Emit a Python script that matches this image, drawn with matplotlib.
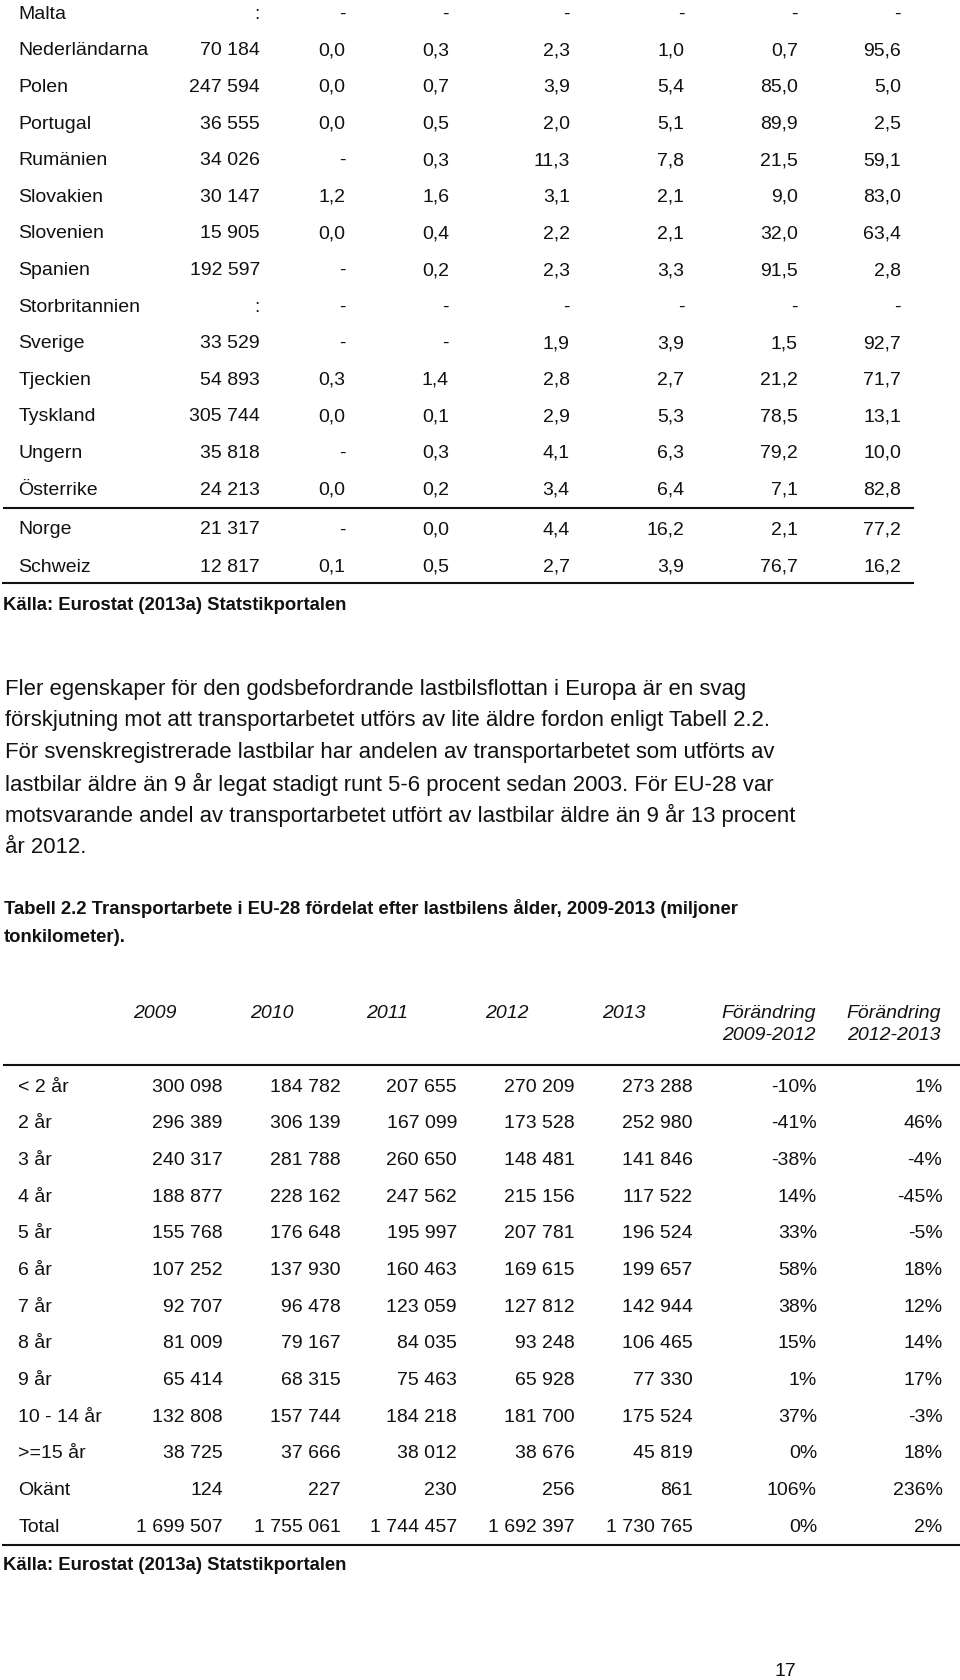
import matplotlib
matplotlib.use("Agg")
import matplotlib.pyplot as plt

# Table 1 (top part): vehicle share by class, per country
countries = ["Malta", "Nederländarna", "Polen", "Portugal", "Rumänien", "Slovakien",
             "Slovenien", "Spanien", "Storbritannien", "Sverige", "Tjeckien",
             "Tyskland", "Ungern", "Österrike"]
extra_countries = ["Norge", "Schweiz"]
totals = [None, 70184, 247594, 36555, 34026, 30147, 15905, 192597, None,
          33529, 54893, 305744, 35818, 24213]
extra_totals = [21317, 12817]
shares = [
    [None, None, None, None, None, None],
    [0.0, 0.3, 2.3, 1.0, 0.7, 95.6],
    [0.0, 0.7, 3.9, 5.4, 85.0, 5.0],
    [0.0, 0.5, 2.0, 5.1, 89.9, 2.5],
    [None, 0.3, 11.3, 7.8, 21.5, 59.1],
    [1.2, 1.6, 3.1, 2.1, 9.0, 83.0],
    [0.0, 0.4, 2.2, 2.1, 32.0, 63.4],
    [None, 0.2, 2.3, 3.3, 91.5, 2.8],
    [None, None, None, None, None, None],
    [None, None, 1.9, 3.9, 1.5, 92.7],
    [0.3, 1.4, 2.8, 2.7, 21.2, 71.7],
    [0.0, 0.1, 2.9, 5.3, 78.5, 13.1],
    [None, 0.3, 4.1, 6.3, 79.2, 10.0],
    [0.0, 0.2, 3.4, 6.4, 7.1, 82.8],
]
extra_shares = [
    [None, 0.0, 4.4, 16.2, 2.1, 77.2],
    [0.1, 0.5, 2.7, 3.9, 76.7, 16.2],
]

source = "Källa: Eurostat (2013a) Statstikportalen"

paragraph = [
    "Fler egenskaper för den godsbefordrande lastbilsflottan i Europa är en svag",
    "förskjutning mot att transportarbetet utförs av lite äldre fordon enligt Tabell 2.2.",
    "För svenskregistrerade lastbilar har andelen av transportarbetet som utförts av",
    "lastbilar äldre än 9 år legat stadigt runt 5-6 procent sedan 2003. För EU-28 var",
    "motsvarande andel av transportarbetet utfört av lastbilar äldre än 9 år 13 procent",
    "år 2012.",
]
caption = [
    "Tabell 2.2 Transportarbete i EU-28 fördelat efter lastbilens ålder, 2009-2013 (miljoner",
    "tonkilometer).",
]

# Table 2.2
headers = [("2009", ""), ("2010", ""), ("2011", ""), ("2012", ""), ("2013", ""),
           ("Förändring", "2009-2012"), ("Förändring", "2012-2013")]
ages = ["< 2 år", "2 år", "3 år", "4 år", "5 år", "6 år", "7 år", "8 år", "9 år",
        "10 - 14 år", ">=15 år", "Okänt", "Total"]
y2009 = [300098, 296389, 240317, 188877, 155768, 107252, 92707, 81009, 65414,
         132808, 38725, 124, 1699507]
y2010 = [184782, 306139, 281788, 228162, 176648, 137930, 96478, 79167, 68315,
         157744, 37666, 227, 1755061]
y2011 = [207655, 167099, 260650, 247562, 195997, 160463, 123059, 84035, 75463,
         184218, 38012, 230, 1744457]
y2012 = [270209, 173528, 148481, 215156, 207781, 169615, 127812, 93248, 65928,
         181700, 38676, 256, 1692397]
y2013 = [273288, 252980, 141846, 117522, 196524, 199657, 142944, 106465, 77330,
         175524, 45819, 861, 1730765]
chg_0912 = [-10, -41, -38, 14, 33, 58, 38, 15, 1, 37, 0, 106, 0]
chg_1213 = [1, 46, -4, -45, -5, 18, 12, 14, 17, -3, 18, 236, 2]
page_no = "17"


def fmt_int(v):
    if v is None:
        return ":"
    return "{:,}".format(v).replace(",", " ")


def fmt_dec(v):
    if v is None:
        return "-"
    return "{:.1f}".format(v).replace(".", ",")


plt.rcParams['font.family'] = ['Liberation Sans', 'DejaVu Sans']
fig = plt.figure(figsize=(9.6, 16.8), dpi=100)
ax = fig.add_axes([0, 0, 1, 1])
ax.set_xlim(0, 960)
ax.set_ylim(1680, 0)
ax.axis('off')

FS = 14
FS_P = 15.9
FS_B = 13.3
DY = 2  # va='center' sits a bit high for cap letters
INK = '#111111'


def put(x, y, s, **kw):
    kw.setdefault('fontsize', FS)
    kw.setdefault('va', 'center')
    kw.setdefault('color', INK)
    ax.text(x, y + DY, s, **kw)


# --- table 1 ---
t1_left = 18.5
t1_right = [260, 345.4, 449, 569.8, 684.5, 797.8, 901]
t1_y = [12.3 + 36.6 * i for i in range(len(countries))]
t1_extra_y = [528, 565]


def t1_row(y, name, tot, vals):
    put(t1_left, y, name, ha='left')
    put(t1_right[0], y, fmt_int(tot), ha='right')
    for x, v in zip(t1_right[1:], vals):
        put(x, y, fmt_dec(v), ha='right')


for y, name, tot, vals in zip(t1_y, countries, totals, shares):
    t1_row(y, name, tot, vals)
for y, name, tot, vals in zip(t1_extra_y, extra_countries, extra_totals, extra_shares):
    t1_row(y, name, tot, vals)

ax.plot([4, 913], [508, 508], color=INK, lw=1.5)
ax.plot([3, 913], [583, 583], color=INK, lw=1.5)
put(3, 603, source, fontsize=FS_B, fontweight='bold', ha='left')

# --- paragraph ---
for i, line in enumerate(paragraph):
    put(5, 687 + 31.65 * i, line, fontsize=FS_P, ha='left')

for i, line in enumerate(caption):
    put(4, 907 + 28.3 * i, line, fontsize=FS_B, fontweight='bold', ha='left')

# --- table 2 ---
t2_left = 18.5
t2_right = [222.8, 340.6, 457, 574.7, 692.5, 817, 942.5]
t2_head_x = [133, 250.4, 366.6, 484.8, 602, 721.7, 846.7]
for x, (h1, h2) in zip(t2_head_x, headers):
    put(x, 1011.7, h1, style='italic', ha='left')
    if h2:
        put(x, 1033.3, h2, style='italic', ha='left')
ax.plot([4, 960], [1065, 1065], color=INK, lw=1.5)

t2_y = [1085 + 36.67 * i for i in range(len(ages))]
cols = [y2009, y2010, y2011, y2012, y2013]
for i, (y, age) in enumerate(zip(t2_y, ages)):
    put(t2_left, y, age, ha='left')
    for x, col in zip(t2_right[:5], cols):
        put(x, y, fmt_int(col[i]), ha='right')
    put(t2_right[5], y, "{}%".format(chg_0912[i]), ha='right')
    put(t2_right[6], y, "{}%".format(chg_1213[i]), ha='right')

ax.plot([3, 960], [1545, 1545], color=INK, lw=1.5)
put(3, 1563, source, fontsize=FS_B, fontweight='bold', ha='left')

put(785, 1670, page_no, ha='center')

fig.savefig("out.png", dpi=100)
